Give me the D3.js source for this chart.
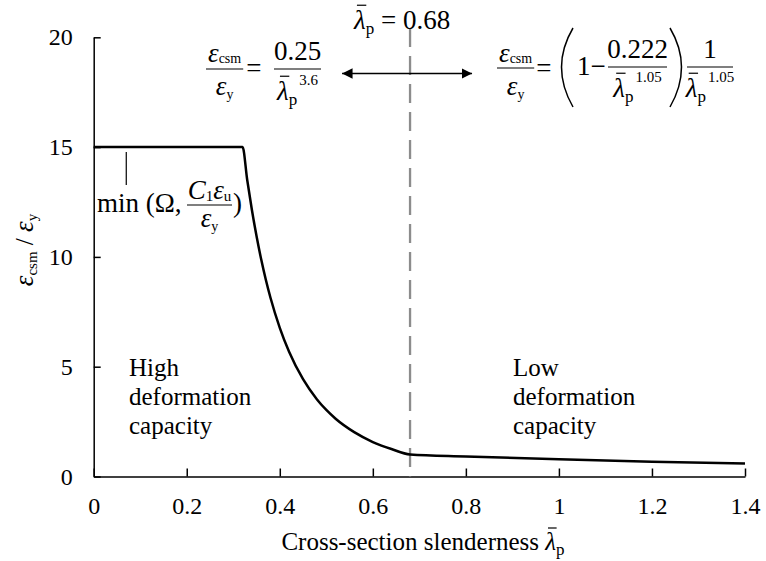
<!DOCTYPE html>
<html>
<head>
<meta charset="utf-8">
<script src="https://cdn.jsdelivr.net/npm/d3@7/dist/d3.min.js"></script>
<style>
  body { margin: 0; background: #fff; }
  svg { display: block; }
  text { font-family: "Liberation Serif", "Times New Roman", serif; fill: #000; white-space: pre; }
</style>
</head>
<body>
<svg id="chart" width="766" height="561"></svg>
<script>
// curve: slenderness vs strain ratio
const lambdaP = [0, 0.32, 0.33, 0.34, 0.35, 0.36, 0.37, 0.38, 0.40, 0.42, 0.45, 0.48, 0.50, 0.52, 0.56, 0.60, 0.64, 0.68, 0.80, 1.00, 1.20, 1.40];
const strainRatio = [15, 15, 13.5, 12.15, 10.95, 9.89, 8.96, 8.14, 6.77, 5.68, 4.43, 3.51, 3.03, 2.63, 2.02, 1.57, 1.25, 1.00, 0.91, 0.78, 0.67, 0.59];
const xTicks = [0, 0.2, 0.4, 0.6, 0.8, 1, 1.2, 1.4];
const yTicks = [0, 5, 10, 15, 20];
const lambdaLimit = 0.68;
const minMarkerX = 0.07;

const serif = '"Liberation Serif", "Times New Roman", serif';
const svg = d3.select("#chart");
const x = d3.scaleLinear().domain([0, 1.4]).range([93.7, 745]);
const y = d3.scaleLinear().domain([0, 20]).range([476.5, 37.3]);

// lay out a row of text pieces, returns group + width
function row(parent, parts) {
  const g = parent.append("g");
  let cx = 0;
  parts.forEach(p => {
    const fs = p.fs || 27;
    const t = g.append("text")
      .attr("x", cx + (p.dx || 0))
      .attr("y", p.dy || 0)
      .attr("font-family", serif)
      .attr("font-size", fs)
      .attr("font-style", p.it ? "italic" : null)
      .text(p.t);
    const w = t.node().getComputedTextLength();
    if (p.bar) {
      g.append("line")
        .attr("x1", cx + (p.dx || 0) + w * 0.25).attr("x2", cx + (p.dx || 0) + w * 1.05)
        .attr("y1", -fs * 0.88).attr("y2", -fs * 0.88)
        .attr("stroke", "#000").attr("stroke-width", 1.2);
    }
    cx += w + (p.dx || 0) + (p.gap || 0);
  });
  return { g, w: cx };
}

function place(parent, parts, x0, base) {
  const r = row(parent, parts);
  r.g.attr("transform", `translate(${x0},${base})`);
  return r;
}

function frac(parent, x0, barY, numParts, numBase, denParts, denBase, width) {
  const n = row(parent, numParts);
  const d = row(parent, denParts);
  const w = width || Math.max(n.w, d.w) + 4;
  n.g.attr("transform", `translate(${x0 + (w - n.w) / 2},${numBase})`);
  d.g.attr("transform", `translate(${x0 + (w - d.w) / 2},${denBase})`);
  parent.append("line")
    .attr("x1", x0).attr("x2", x0 + w).attr("y1", barY).attr("y2", barY)
    .attr("stroke", "#000").attr("stroke-width", 1.2);
  return x0 + w;
}

const lamP = (sup) => {
  const parts = [{ t: "λ", it: true, bar: true }, { t: "p", fs: 17, dy: 5 }];
  if (sup) parts.push({ t: sup, fs: 15, dy: -15, dx: 2 });
  return parts;
};
const epsCsm = [{ t: "ε", it: true }, { t: "csm", fs: 14, dy: 1 }];
const epsY = [{ t: "ε", it: true }, { t: "y", fs: 14, dy: 4 }];

// axes
const xAxis = svg.append("g")
  .attr("transform", `translate(0,${y(0)})`)
  .call(d3.axisBottom(x).tickValues(xTicks).tickSize(-8).tickSizeOuter(0).tickPadding(20)
    .tickFormat(d => String(+d.toFixed(1))));
const yAxis = svg.append("g")
  .attr("transform", `translate(${x(0)},0)`)
  .call(d3.axisLeft(y).tickValues(yTicks).tickSize(-7).tickSizeOuter(0).tickPadding(21));
[xAxis, yAxis].forEach(a => {
  a.attr("font-family", serif).attr("font-size", 24);
  a.selectAll("text").attr("font-family", serif).attr("font-size", 24);
  a.selectAll("path, line").attr("stroke", "#000").attr("stroke-width", 1.5);
});

// limit line at 0.68
svg.append("line")
  .attr("x1", x(lambdaLimit)).attr("x2", x(lambdaLimit))
  .attr("y1", 28).attr("y2", y(0))
  .attr("stroke", "#8c8c8c").attr("stroke-width", 2.3)
  .attr("stroke-dasharray", "19,9");

// curve
svg.append("path")
  .datum(lambdaP.map((l, i) => [l, strainRatio[i]]))
  .attr("fill", "none").attr("stroke", "#000").attr("stroke-width", 2.5)
  .attr("stroke-linejoin", "round")
  .attr("d", d3.line().x(d => x(d[0])).y(d => y(d[1])).curve(d3.curveMonotoneX));

// arrow
svg.append("defs").append("marker")
  .attr("id", "head").attr("viewBox", "0 0 10 10").attr("refX", 10).attr("refY", 5)
  .attr("markerWidth", 7).attr("markerHeight", 7).attr("markerUnits", "strokeWidth")
  .attr("orient", "auto-start-reverse")
  .append("path").attr("d", "M0,0L10,5L0,10z").attr("fill", "#000");
svg.append("line")
  .attr("x1", x(lambdaLimit) - 68).attr("x2", x(lambdaLimit) + 62)
  .attr("y1", 73.5).attr("y2", 73.5)
  .attr("stroke", "#000").attr("stroke-width", 1.5)
  .attr("marker-start", "url(#head)").attr("marker-end", "url(#head)");

// top label
place(svg, [{ t: "λ", it: true, bar: true }, { t: "p", fs: 17, dy: 5 }, { t: " = 0.68" }], 354, 29);

// left formula
let cx = frac(svg, 206, 69, epsCsm, 62, epsY, 95);
place(svg, [{ t: "=" }], cx + 3, 77);
frac(svg, 274, 69, [{ t: "0.25" }], 60, lamP("3.6"), 100, 47);

// right formula
cx = frac(svg, 497, 68, epsCsm, 62, epsY, 95);
place(svg, [{ t: "=" }], cx + 2, 77);
svg.append("path").attr("d", "M573,28Q550,67 573,107").attr("fill", "none").attr("stroke", "#000").attr("stroke-width", 1.5);
place(svg, [{ t: "1" }, { t: "−" }], 577, 75);
frac(svg, 608, 67, [{ t: "0.222" }], 58, lamP("1.05"), 97, 59);
svg.append("path").attr("d", "M670,28Q693,67 670,107").attr("fill", "none").attr("stroke", "#000").attr("stroke-width", 1.5);
frac(svg, 687, 67, [{ t: "1" }], 58, lamP("1.05"), 97, 46);

// min annotation
svg.append("line")
  .attr("x1", x(minMarkerX)).attr("x2", x(minMarkerX)).attr("y1", 152).attr("y2", 185)
  .attr("stroke", "#000").attr("stroke-width", 1.2);
place(svg, [{ t: "min (Ω, " }], 97, 212);
frac(svg, 187, 205, [{ t: "C", it: true }, { t: "1", fs: 15, dy: 2 }, { t: "ε", it: true }, { t: "u", fs: 15, dy: 2 }], 199,
  epsY, 227, 45);
place(svg, [{ t: ")" }], 233, 212);

// region labels
["High", "deformation", "capacity"].forEach((s, i) =>
  svg.append("text").attr("x", 129).attr("y", 376 + i * 29).attr("font-family", serif).attr("font-size", 25).text(s));
["Low", "deformation", "capacity"].forEach((s, i) =>
  svg.append("text").attr("x", 513).attr("y", 376 + i * 29).attr("font-family", serif).attr("font-size", 25).text(s));

// axis titles
const xt = row(svg, [{ t: "Cross-section slenderness ", fs: 25 }, { t: "λ", fs: 25, it: true, bar: true }, { t: "p", fs: 17, dy: 5 }]);
xt.g.attr("transform", `translate(${423 - xt.w / 2},550)`);

const yt = row(svg, [{ t: "ε", it: true }, { t: "csm", fs: 15, dy: 4 }, { t: " / ", fs: 25 }, { t: "ε", it: true }, { t: "y", fs: 15, dy: 4 }]);
yt.g.attr("transform", `translate(33,${250 + yt.w / 2}) rotate(-90)`);
</script>
</body>
</html>
